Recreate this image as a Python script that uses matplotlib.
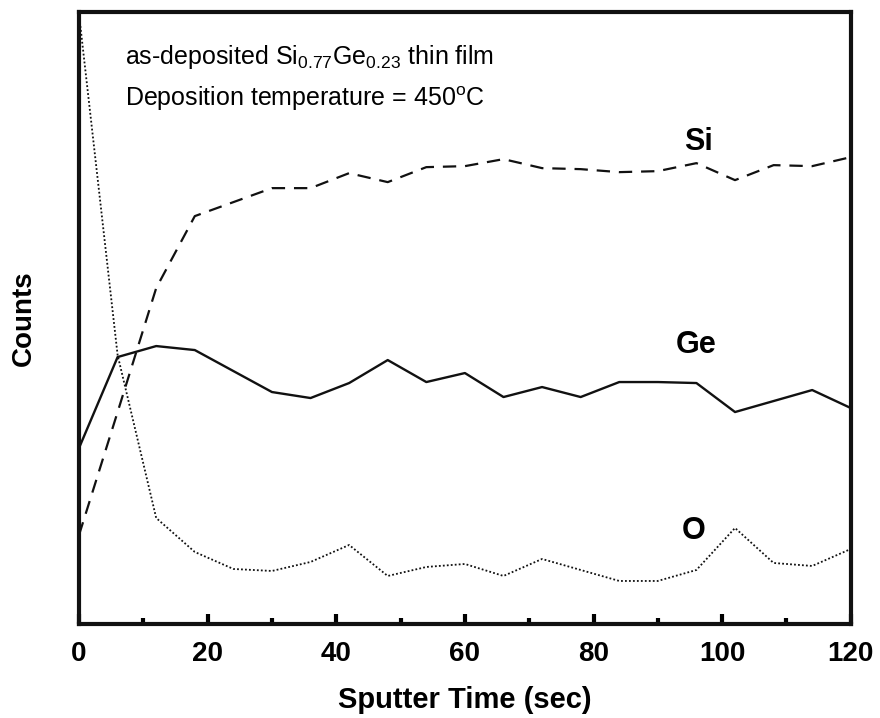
import numpy as np
import matplotlib
matplotlib.use("Agg")
import matplotlib.pyplot as plt
from matplotlib.ticker import MultipleLocator, NullLocator

# sputter time (sec), one point every 6 s
time = np.arange(0, 121, 6)

# counts (arbitrary units)
si = [89, 212, 336, 408, 422, 436, 436, 451, 442, 457, 458,
      465, 456, 455, 452, 453, 461, 444, 459, 458, 467]
ge = [176, 267, 278, 274, 253, 232, 226, 241, 264, 242, 251,
      227, 237, 227, 242, 242, 241, 212, 223, 234, 216]
ox = [610, 269, 106, 72, 55, 53, 62, 79, 48, 57, 60,
      48, 65, 54, 43, 43, 54, 96, 61, 58, 75]

plt.rcParams['font.family'] = ['Liberation Sans', 'DejaVu Sans']
plt.rcParams['mathtext.fontset'] = 'custom'
plt.rcParams['mathtext.rm'] = 'Liberation Sans'
plt.rcParams['mathtext.it'] = 'Liberation Sans'

ink = '#111111'

fig = plt.figure(figsize=(8.8, 7.18), dpi=100)
ax = fig.add_axes([0.0898, 0.131, 0.877, 0.852])

ax.plot(time, si, color=ink, lw=1.6, dashes=(6, 4))
ax.plot(time, ge, color=ink, lw=1.7)
ax.plot(time, ox, color=ink, lw=1.3, dashes=(1, 1.2))

ax.set_xlim(0, 120)
ax.set_ylim(0, 612)

ax.xaxis.set_major_locator(MultipleLocator(20))
ax.xaxis.set_minor_locator(MultipleLocator(10))
ax.yaxis.set_major_locator(NullLocator())
ax.tick_params(axis='x', which='major', direction='in', length=7, width=3, pad=12)
ax.tick_params(axis='x', which='minor', direction='in', length=4.5, width=3)
for lab in ax.get_xticklabels():
    lab.set_fontweight('bold')
    lab.set_fontsize(20)
for s in ax.spines.values():
    s.set_linewidth(3)
    s.set_color(ink)

ax.set_xlabel('Sputter Time (sec)', weight='bold', fontsize=21, va='center')
ax.xaxis.set_label_coords(0.5, -0.125)
ax.set_ylabel('Counts', weight='bold', fontsize=20, va='center')
ax.yaxis.set_label_coords(-0.072, 0.5)

ax.text(0.060, 0.915, r'as-deposited Si$_{0.77}$Ge$_{0.23}$ thin film',
        transform=ax.transAxes, fontsize=18, va='baseline')
ax.text(0.060, 0.846, r'Deposition temperature = 450$^{\mathrm{o}}$C',
        transform=ax.transAxes, fontsize=18, va='baseline')

ax.text(96.3, 482, 'Si', weight='bold', fontsize=22, ha='center', va='center')
ax.text(96.0, 279, 'Ge', weight='bold', fontsize=22, ha='center', va='center')
ax.text(95.6, 93, 'O', weight='bold', fontsize=22, ha='center', va='center')

fig.savefig('out.png', dpi=100)
